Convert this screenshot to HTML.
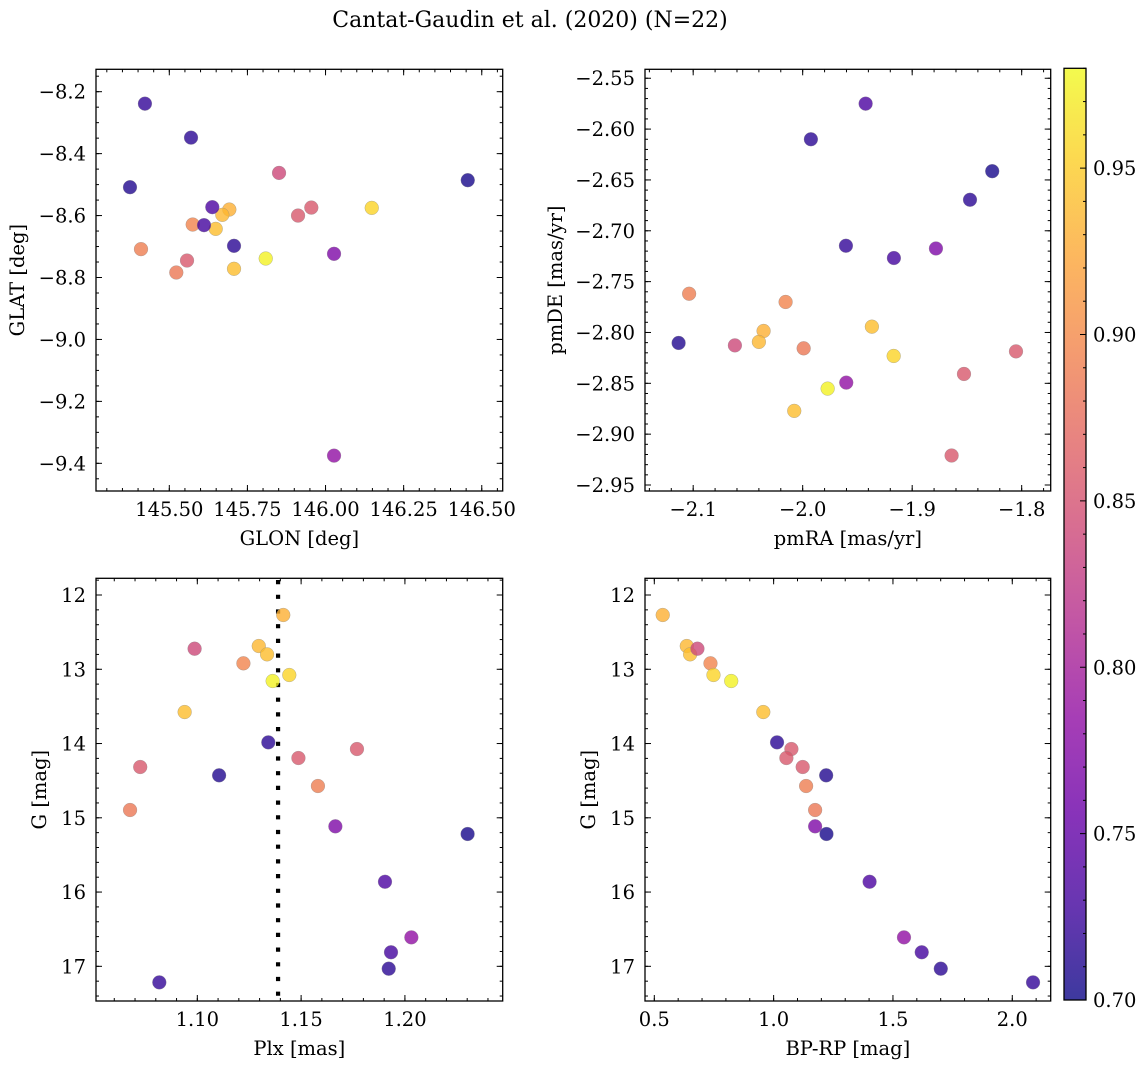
<!DOCTYPE html>
<html><head><meta charset="utf-8"><style>
html,body{margin:0;padding:0;background:#fff;}
svg{display:block;font-family:"DejaVu Serif","Liberation Serif",serif;}
</style></head><body>
<svg id="fig" width="1148" height="1068" viewBox="0 0 1148 1068" xmlns="http://www.w3.org/2000/svg">
<text x="530" y="27" text-anchor="middle" font-size="22">Cantat-Gaudin et al. (2020) (N=22)</text>
</svg>
<script>
const glon=[145.6921,145.6697,145.6485,145.8512,145.5749,146.1479,145.8086,145.7071,145.7071,145.9545,145.912,145.5567,145.3742,145.4094,145.5224,146.0272,146.4552,145.6376,146.0272,145.6111,145.5695,145.422];
const glat=[-8.5806,-8.5977,-8.6429,-8.4623,-8.629,-8.5752,-8.7387,-8.7719,-8.6977,-8.5742,-8.6,-8.7452,-8.5084,-8.7084,-8.7839,-8.7235,-8.4858,-8.5729,-9.3752,-8.631,-8.3484,-8.2387];
const pmra=[-2.0357,-2.040,-1.9368,-2.0619,-2.0156,-1.9169,-1.9772,-2.0077,-1.9925,-1.8527,-1.8052,-1.8640,-2.1133,-2.1037,-1.9991,-1.8783,-1.8269,-1.9425,-1.9602,-1.9167,-1.8472,-1.9605];
const pmde=[-2.7985,-2.8093,-2.7943,-2.8127,-2.770,-2.8231,-2.8552,-2.8771,-2.610,-2.8408,-2.8186,-2.921,-2.8103,-2.7619,-2.8156,-2.7174,-2.6414,-2.575,-2.8493,-2.7268,-2.6695,-2.7147];
const plx=[1.1414,1.1296,1.1336,1.0987,1.1222,1.1443,1.1363,1.0939,1.1342,1.1769,1.1487,1.0725,1.1105,1.1581,1.0676,1.1665,1.2302,1.1904,1.2031,1.1933,1.1922,1.0817];
const bprp=[0.5353,0.6361,0.650,0.6807,0.7353,0.7479,0.8223,0.9567,1.0143,1.0744,1.0534,1.1218,1.2202,1.1361,1.1739,1.1739,1.2214,1.4021,1.5462,1.6206,1.7004,2.087];
const gmag=[12.269,12.687,12.799,12.723,12.920,13.077,13.158,13.576,13.984,14.074,14.195,14.316,14.428,14.572,14.895,15.115,15.218,15.861,16.610,16.811,17.032,17.216];
const prob=[0.93,0.935,0.94,0.84,0.895,0.955,0.975,0.94,0.715,0.855,0.855,0.855,0.71,0.89,0.885,0.77,0.705,0.735,0.785,0.73,0.715,0.72];
const plxMean=[1.1389];
const cbTicks=[0.70,0.75,0.80,0.85,0.90,0.95];

const NS="http://www.w3.org/2000/svg";
const svg=document.getElementById('fig');
const FS=19.5;
function el(tag,attrs,parent){const e=document.createElementNS(NS,tag);for(const k in attrs)e.setAttribute(k,attrs[k]);(parent||svg).appendChild(e);return e;}
const PL=[[0,13,8,135],[0.1,65,4,157],[0.2,106,0,168],[0.3,143,13,164],[0.4,177,42,144],[0.5,204,71,120],[0.6,225,100,98],[0.7,242,132,75],[0.8,252,166,54],[0.9,252,206,37],[1.0,240,249,33]];
const VMIN=0.70,VMAX=0.98;
function plasma(t){t=Math.max(0,Math.min(1,t));for(let i=0;i<PL.length-1;i++){const a=PL[i],b=PL[i+1];if(t<=b[0]){const f=(t-a[0])/(b[0]-a[0]);return 'rgb('+[1,2,3].map(j=>Math.round(a[j]+(b[j]-a[j])*f)).join(',')+')';}}return 'rgb(240,249,33)';}
function colorOf(p){return plasma((p-VMIN)/(VMAX-VMIN));}
function fmtNum(v,d){const s=Math.abs(v).toFixed(d);return (v<-1e-9?'\u2212':'')+s;}

function panel(o){
  const g=el('g',{});
  
  
  const {x0,x1,y0,y1}=o;
  const sx=v=>x0+(v-o.xd[0])/(o.xd[1]-o.xd[0])*(x1-x0);
  const sy=o.yinv?(v=>y0+(v-o.yd[0])/(o.yd[1]-o.yd[0])*(y1-y0)):(v=>y1-(v-o.yd[0])/(o.yd[1]-o.yd[0])*(y1-y0));
  const tg=el('g',{stroke:'#000','stroke-width':1},g);
  
  
  function ticks(lo,hi,step){const a=[];const s=Math.ceil(lo/step-1e-6);for(let k=s;k*step<=hi+1e-9;k++)a.push(+(k*step).toFixed(6));return a;}
  const xlo=Math.min(...o.xd),xhi=Math.max(...o.xd),ylo=Math.min(...o.yd),yhi=Math.max(...o.yd);
  ticks(xlo,xhi,o.xmin).forEach(v=>{const X=sx(v);el('line',{x1:X,x2:X,y1:y1,y2:y1-3},tg);el('line',{x1:X,x2:X,y1:y0,y2:y0+3},tg);});
  ticks(ylo,yhi,o.ymin).forEach(v=>{const Y=sy(v);el('line',{x1:x0,x2:x0+3,y1:Y,y2:Y},tg);el('line',{x1:x1,x2:x1-3,y1:Y,y2:Y},tg);});
  ticks(xlo,xhi,o.xmaj).forEach(v=>{const X=sx(v);el('line',{x1:X,x2:X,y1:y1,y2:y1-6},tg);el('line',{x1:X,x2:X,y1:y0,y2:y0+6},tg);
    const t=el('text',{x:X,y:y1+25,'text-anchor':'middle','font-size':FS,stroke:'none'},g);t.textContent=fmtNum(v,o.xdec);
    });
  ticks(ylo,yhi,o.ymaj).forEach(v=>{const Y=sy(v);el('line',{x1:x0,x2:x0+6,y1:Y,y2:Y},tg);el('line',{x1:x1,x2:x1-6,y1:Y,y2:Y},tg);
    const t=el('text',{x:x0-10,y:Y+7,'text-anchor':'end','font-size':FS},g);t.textContent=fmtNum(v,o.ydec);
    });
  if(o.extra)o.extra(g,sx,sy);
  const pg=el('g',{},g);
  
  
  o.xs.forEach((xv,i)=>{const c=el('circle',{cx:sx(xv),cy:sy(o.ys[i]),r:6.9,fill:colorOf(prob[i]),'fill-opacity':0.8,stroke:'#888','stroke-opacity':0.6,'stroke-width':0.5},pg);
    
    });
  const fr=el('rect',{x:x0,y:y0,width:x1-x0,height:y1-y0,fill:'none',stroke:'#000','stroke-width':1.3},g);
  
  
  const xl=el('text',{x:(x0+x1)/2,y:y1+54,'text-anchor':'middle','font-size':FS},g);xl.textContent=o.xlabel;
  
  const yl=el('text',{x:0,y:0,'text-anchor':'middle','font-size':FS,transform:`translate(${o.ylx},${(y0+y1)/2}) rotate(-90)`},g);yl.textContent=o.ylabel;
  
}
panel({name:'glon-glat-panel',x0:96,x1:502.7,y0:69.3,y1:491,xd:[145.2654,146.567],yd:[-9.4894,-8.1277],xmaj:0.25,xmin:0.05,ymaj:0.2,ymin:0.05,xdec:2,ydec:1,xs:glon,ys:glat,xlabel:'GLON [deg]',ylabel:'GLAT [deg]',ylx:24});
panel({name:'pm-panel',x0:645,x1:1050.7,y0:69.3,y1:491,xd:[-2.144,-1.7735],yd:[-2.9559,-2.5412],xmaj:0.1,xmin:0.02,ymaj:0.05,ymin:0.01,xdec:1,ydec:2,xs:pmra,ys:pmde,xlabel:'pmRA [mas/yr]',ylabel:'pmDE [mas/yr]',ylx:562});
panel({name:'plx-g-panel',x0:96,x1:502.7,y0:578.3,y1:1001,xd:[1.0512,1.2471],yd:[11.775,17.467],yinv:true,xmaj:0.05,xmin:0.01,ymaj:1,ymin:0.2,xdec:2,ydec:0,xs:plx,ys:gmag,xlabel:'Plx [mas]',ylabel:'G [mag]',ylx:46,
  extra:(g,sx,sy)=>{const l=el('line',{x1:sx(plxMean[0]),x2:sx(plxMean[0]),y1:580,y2:1001,stroke:'#000','stroke-width':4.2,'stroke-dasharray':'4.2 10.5'},g);
    }});
panel({name:'cmd-panel',x0:645,x1:1050.7,y0:578.3,y1:1001,xd:[0.461,2.161],yd:[11.775,17.467],yinv:true,xmaj:0.5,xmin:0.1,ymaj:1,ymin:0.2,xdec:1,ydec:0,xs:bprp,ys:gmag,xlabel:'BP-RP [mag]',ylabel:'G [mag]',ylx:595});

const cb=el('g',{});


const cx0=1064,cx1=1086,cy0=68.3,cy1=1000;
const defs=el('defs',{},cb);
const grad=el('linearGradient',{id:'cbg',x1:0,y1:1,x2:0,y2:0},defs);
for(let k=0;k<=20;k++){const t=k/20;el('stop',{offset:t,'stop-color':plasma(t),'stop-opacity':0.8},grad);}
const cr=el('rect',{x:cx0,y:cy0,width:cx1-cx0,height:cy1-cy0,fill:'url(#cbg)',stroke:'#000','stroke-width':1.3},cb);


const csy=v=>cy1-(v-VMIN)/(VMAX-VMIN)*(cy1-cy0);
for(let k=70;k<=98;k++){const Y=csy(k/100);el('line',{x1:cx1,x2:cx1-(k%5===0?6:3),y1:Y,y2:Y,stroke:'#000','stroke-width':1},cb);}
cbTicks.forEach(v=>{const t=el('text',{x:cx1+7,y:csy(v)+7,'font-size':FS},cb);t.textContent=v.toFixed(2);
  });
</script>
</body></html>
